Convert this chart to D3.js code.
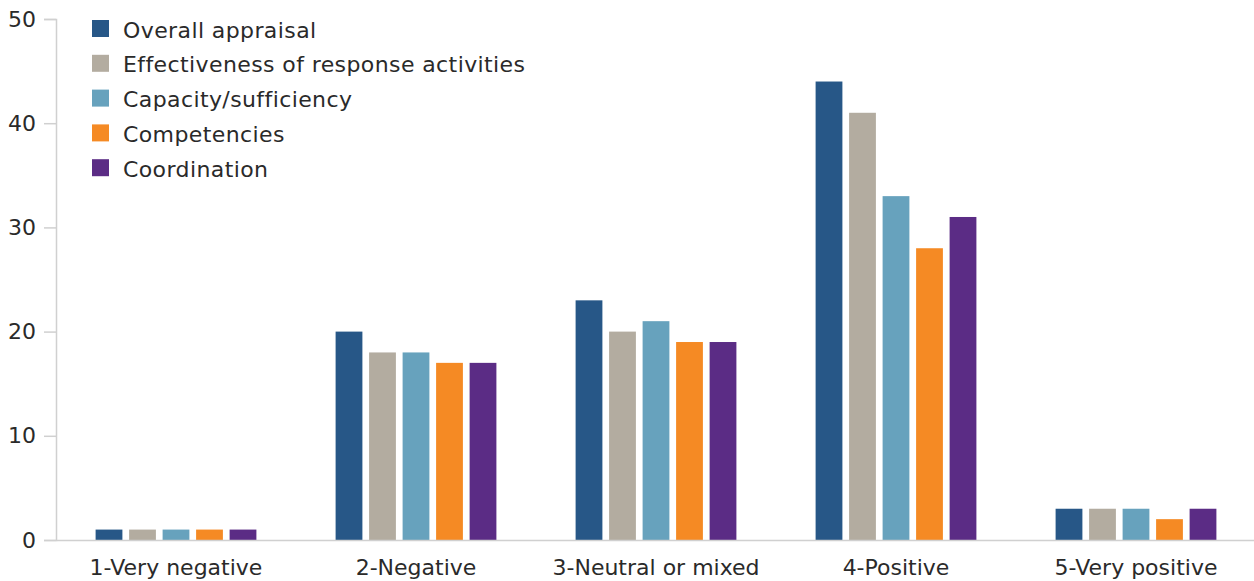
<!DOCTYPE html>
<html><head><meta charset="utf-8">
<script src="https://cdn.jsdelivr.net/npm/d3@7"></script>
<style>body{margin:0;background:#fff}text{font-family:"DejaVu Sans",sans-serif}</style>
</head><body>
<svg id="c" width="1254" height="581"></svg>
<script>
const categories = ["1-Very negative","2-Negative","3-Neutral or mixed","4-Positive","5-Very positive"];
const seriesNames = ["Overall appraisal","Effectiveness of response activities","Capacity/sufficiency","Competencies","Coordination"];
const overall = [1,20,23,44,3];
const effectiveness = [1,18,20,41,3];
const capacity = [1,18,21,33,3];
const competencies = [1,17,19,28,2];
const coordination = [1,17,19,31,3];
const yTicks = [0,10,20,30,40,50];
const colors = ["#275787","#b3aca0","#67a2bd","#f58a24","#5b2c85"];
const values = [overall, effectiveness, capacity, competencies, coordination];

const FONT = '"DejaVu Sans", sans-serif';
const svg = d3.select("#c");
const x0 = d3.scaleBand().domain(categories).range([56,1256]).paddingInner(0.33).paddingOuter(0.165);
const x1 = d3.scaleBand().domain(seriesNames).range([0,x0.bandwidth()]).paddingInner(0.2).paddingOuter(0);
const y = d3.scaleLinear().domain([0,50]).range([540,19]);

// y axis
const ya = svg.append("g").attr("transform","translate(56,0)")
  .call(d3.axisLeft(y).tickValues(yTicks).tickSize(12).tickPadding(8));
ya.select(".domain").attr("stroke","#d0d0d0").attr("stroke-width",1.5);
ya.selectAll(".tick line").attr("stroke","#d0d0d0").attr("stroke-width",1.5);
ya.selectAll(".tick text").attr("fill","#2a2a2a").style("font-size","22px").style("font-family",FONT);

// bars
categories.forEach((c,ci)=>{
  seriesNames.forEach((s,si)=>{
    svg.append("rect")
      .attr("x", x0(c)+x1(s))
      .attr("y", y(values[si][ci]))
      .attr("width", x1.bandwidth())
      .attr("height", y(0)-y(values[si][ci]))
      .attr("fill", colors[si]);
  });
});

// x axis
const xa = svg.append("g").attr("transform","translate(0,540)")
  .call(d3.axisBottom(x0).tickSize(0).tickPadding(19));
xa.select(".domain").attr("stroke","#d0d0d0").attr("stroke-width",1.5);
xa.selectAll(".tick text").attr("fill","#2a2a2a").style("font-size","22px").style("font-family",FONT);

// legend
const lg = svg.append("g");
seriesNames.forEach((s,i)=>{
  const yy = 20 + i*34.8;
  lg.append("rect").attr("x",92).attr("y",yy).attr("width",17).attr("height",17).attr("fill",colors[i]);
  lg.append("text").attr("x",123).attr("y",yy+17.5).attr("fill","#2a2a2a").style("font-size","22px").style("letter-spacing","0.4px").style("font-family",FONT).text(s);
});
</script>
</body></html>
